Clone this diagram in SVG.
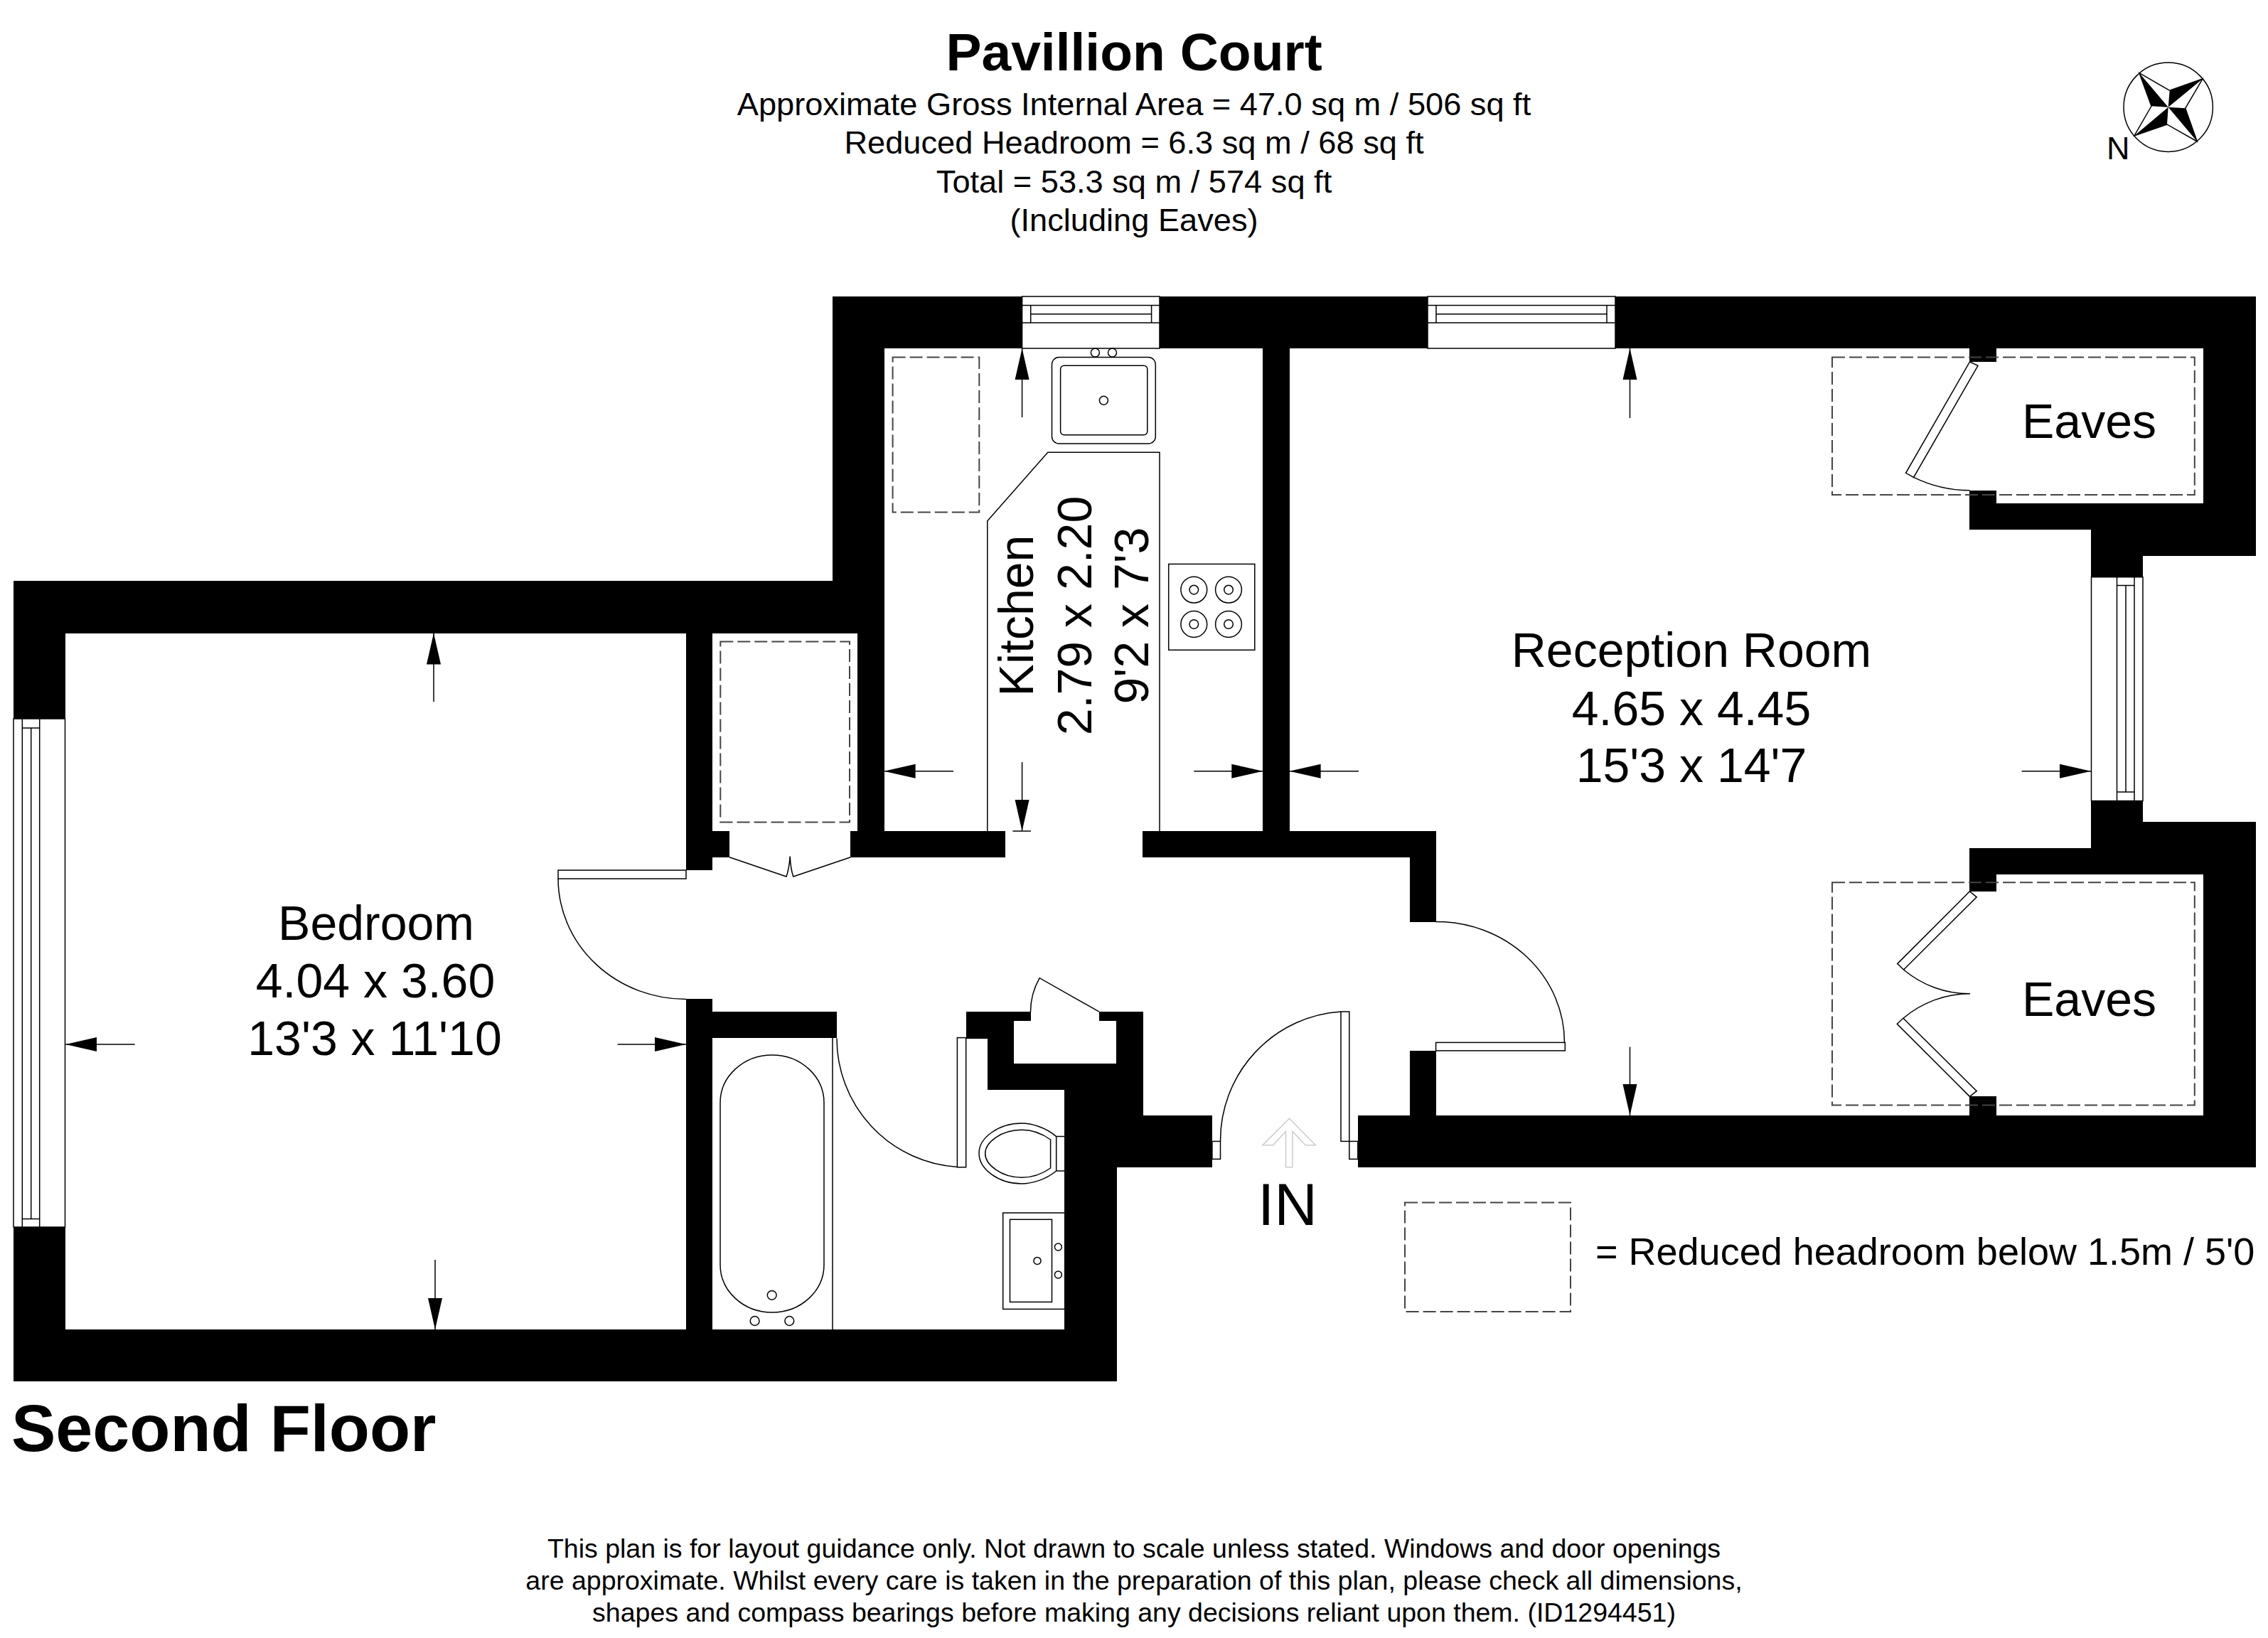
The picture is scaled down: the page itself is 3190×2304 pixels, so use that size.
<svg xmlns="http://www.w3.org/2000/svg" width="3190" height="2304" viewBox="0 0 3190 2304">
<style>
text{font-family:"Liberation Sans",Arial,sans-serif;fill:#000}
.c{text-anchor:middle}
.room{font-size:68px}
.sub{font-size:45.2px}
.foot{font-size:37.5px}
.wall{fill:#000;stroke:none}
.ln{fill:none;stroke:#000;stroke-width:1.5}
.wl{fill:#fff;stroke:#000;stroke-width:1.5}
.dash{fill:none;stroke:#444;stroke-width:2;stroke-dasharray:18 6}
.dim{stroke:#000;stroke-width:1.5;fill:none;marker-end:url(#ah)}
</style>
<defs>
<marker id="ah" markerUnits="userSpaceOnUse" markerWidth="46" markerHeight="22" refX="44" refY="11" orient="auto"><path d="M0 1L44 11L0 21Z" fill="#000"/></marker>
</defs>
<rect width="3190" height="2304" fill="#fff"/>

<g id="title">
<text class="c" x="1595" y="99" font-size="75" font-weight="700">Pavillion Court</text>
<text class="c sub" x="1595" y="162">Approximate Gross Internal Area = 47.0 sq m / 506 sq ft</text>
<text class="c sub" x="1595" y="216">Reduced Headroom = 6.3 sq m / 68 sq ft</text>
<text class="c sub" x="1595" y="271">Total = 53.3 sq m / 574 sq ft</text>
<text class="c sub" x="1595" y="325">(Including Eaves)</text>
</g>

<g id="compass">
<circle class="ln" cx="3049.7" cy="150.7" r="62.7" stroke-width="2"/>
<path fill="#000" d="M3009 102.7L3026 149.3L3049.7 150.7ZM3098 111L3051.7 127.3L3049.7 150.7ZM3090.3 199L3073.7 152.3L3049.7 150.7ZM3002 191L3048 175L3049.7 150.7Z"/>
<path class="ln" d="M3009 102.7L3051.7 127.3L3098 111L3073.7 152.3L3090.3 199L3048 175L3002 191L3026 149.3Z"/>
<text x="2963" y="224" font-size="45">N</text>
</g>

<g id="walls" class="wall">
<rect x="1171" y="417" width="267" height="73"/>
<rect x="1631" y="417" width="377" height="73"/>
<rect x="2272" y="417" width="901" height="73"/>
<rect x="1171" y="417" width="73" height="474"/>
<rect x="19" y="817" width="1225" height="74"/>
<rect x="1206" y="817" width="38" height="388"/>
<rect x="1776" y="490" width="38" height="716"/>
<rect x="19" y="817" width="73" height="194"/>
<rect x="19" y="1726" width="73" height="217"/>
<rect x="19" y="1870" width="1552" height="73"/>
<rect x="965" y="891" width="37" height="333"/>
<rect x="965" y="1169" width="61" height="37"/>
<rect x="1196" y="1169" width="218" height="37"/>
<rect x="1607" y="1169" width="413" height="37"/>
<rect x="1983" y="1169" width="37" height="128"/>
<rect x="1983" y="1478" width="37" height="100"/>
<rect x="965" y="1405" width="37" height="500"/>
<rect x="965" y="1423" width="212" height="37"/>
<rect x="1359" y="1423" width="91" height="13"/>
<rect x="1546" y="1423" width="62" height="13"/>
<rect x="1359" y="1423" width="67" height="37"/>
<rect x="1389" y="1423" width="37" height="110"/>
<rect x="1570" y="1423" width="38" height="146"/>
<rect x="1389" y="1496" width="219" height="37"/>
<rect x="1497" y="1496" width="111" height="146"/>
<rect x="1497" y="1569" width="208" height="73"/>
<rect x="1497" y="1569" width="74" height="374"/>
<rect x="1910" y="1569" width="1263" height="73"/>
<rect x="3099" y="417" width="74" height="328"/>
<rect x="2770" y="708" width="403" height="37"/>
<rect x="2941" y="745" width="232" height="37"/>
<rect x="2941" y="745" width="73" height="67"/>
<rect x="2770" y="490" width="38" height="19"/>
<rect x="2770" y="690" width="38" height="55"/>
<rect x="2941" y="1126" width="73" height="103"/>
<rect x="3014" y="1156" width="159" height="74"/>
<rect x="2770" y="1193" width="403" height="37"/>
<rect x="2770" y="1193" width="38" height="61"/>
<rect x="3099" y="1193" width="74" height="449"/>
<rect x="2770" y="1542" width="38" height="40"/>
</g>

<g id="windows">
<g id="window-kitchen">
<rect class="wl" x="1437.6" y="417" width="193.4" height="73"/>
<path class="ln" d="M1437.6 429.6H1631M1449.7 441.8H1619.6M1437.6 454H1631M1449.7 429.6V454M1619.6 429.6V454"/>
</g>
<g id="window-reception-top">
<rect class="wl" x="2008" y="417" width="264" height="73"/>
<path class="ln" d="M2008 429.6H2272M2020 441.8H2260M2008 454H2272M2020 429.6V454M2260 429.6V454"/>
</g>
<g id="window-reception-side">
<rect class="wl" x="2941.5" y="811.7" width="72.5" height="314.8"/>
<path class="ln" d="M2977.5 811.7V1126.5M2990 823.5V1114M3002 811.7V1126.5M2977.5 823.5H3002M2977.5 1114H3002"/>
</g>
<g id="window-bedroom">
<rect class="wl" x="19" y="1011" width="72.5" height="715"/>
<path class="ln" d="M31.3 1011V1726M43.7 1023.9V1714.5M55.7 1011V1726M31.3 1023.9H55.7M31.3 1714.5H55.7"/>
</g>
</g>

<g id="doors">
<g id="door-bedroom">
<rect class="wl" x="785" y="1224" width="180" height="12"/>
<path class="ln" d="M785 1236A180 170 0 0 0 965 1405.5"/>
</g>
<g id="door-closet">
<path class="ln" d="M1026 1205.7L1106 1233Q1110 1222 1111.2 1204.6Q1112 1222 1115.8 1233L1196.4 1205.7"/>
</g>
<g id="door-bathroom">
<rect class="wl" x="1346.4" y="1459.6" width="12.3" height="182.2"/>
<path class="ln" d="M1177 1460.4A181 181 0 0 0 1346.4 1641.4"/>
<path class="ln" d="M1358.7 1460.4H1389"/>
</g>
<g id="door-cupboard">
<path class="ln" d="M1546 1423.2L1462.2 1375.7A96 96 0 0 0 1449.5 1423.2"/>
</g>
<g id="door-entrance">
<rect class="wl" x="1704.9" y="1605.4" width="11.6" height="25"/>
<rect class="wl" x="1897.8" y="1605.4" width="12" height="25"/>
<rect class="wl" x="1886" y="1423" width="11.8" height="182.4"/>
<path class="ln" d="M1716.5 1605.4A181 182 0 0 1 1886 1423"/>
</g>
<g id="door-reception">
<rect class="wl" x="2019.6" y="1466.4" width="181.7" height="11.5"/>
<path class="ln" d="M2020 1296.4A180 170 0 0 1 2200.5 1466.4"/>
</g>
<g id="door-eaves-top">
<path class="wl" d="M2770.5 509L2782 514.3L2691.6 671.4L2680.6 665.3Z"/>
<path class="ln" d="M2691.6 671.4A180 180 0 0 0 2770.5 689.8"/>
</g>
<g id="door-eaves-bottom">
<path class="wl" d="M2770.5 1253.8L2780.2 1261.8L2677.5 1364L2668.7 1355.6Z"/>
<path class="wl" d="M2770.5 1542.4L2780.2 1534.7L2677 1432.3L2668.3 1440.2Z"/>
<path class="ln" d="M2677.5 1364A144 144 0 0 0 2771 1397.8A144 144 0 0 0 2677 1432.3"/>
</g>
</g>

<g id="headroom">
<rect class="dash" x="1255.6" y="502.6" width="121.7" height="217.8"/>
<rect class="dash" x="1013.3" y="902.6" width="181.7" height="253.8"/>
<rect class="dash" x="2577" y="502.6" width="509.8" height="193.4"/>
<rect class="dash" x="2577" y="1241.2" width="509.8" height="313.4"/>
<rect class="dash" x="1976" y="1691.4" width="233" height="153.6"/>
</g>

<g id="kitchen-fittings">
<path class="ln" d="M1388.8 1169V732.7L1473.8 636.2H1631V1169"/>
<rect class="ln" x="1479.5" y="502.6" width="145.8" height="121.4" rx="10"/>
<rect class="ln" x="1491.6" y="514.3" width="122.2" height="97.4" rx="5"/>
<circle class="ln" cx="1552.4" cy="563.3" r="6"/>
<circle class="ln" cx="1540.4" cy="496" r="6"/>
<circle class="ln" cx="1564.5" cy="496" r="6"/>
<rect class="ln" x="1643.7" y="793.4" width="121.1" height="120.9"/>
<circle class="ln" cx="1679.3" cy="829.6" r="18.4"/><circle class="ln" cx="1679.3" cy="829.6" r="6.3"/>
<circle class="ln" cx="1728" cy="829.6" r="18.4"/><circle class="ln" cx="1728" cy="829.6" r="6.3"/>
<circle class="ln" cx="1679.3" cy="878" r="18.4"/><circle class="ln" cx="1679.3" cy="878" r="6.3"/>
<circle class="ln" cx="1728" cy="878" r="18.4"/><circle class="ln" cx="1728" cy="878" r="6.3"/>
</g>

<g id="bathroom-fittings">
<path class="ln" d="M1171 1460V1870"/>
<rect class="ln" x="1013" y="1484" width="146" height="362" rx="73" ry="67"/>
<circle class="ln" cx="1085.7" cy="1821.8" r="6.4"/>
<circle class="ln" cx="1061.6" cy="1858" r="6.4"/>
<circle class="ln" cx="1110.3" cy="1858" r="6.4"/>
<path class="ln" d="M1485.7 1598.6H1497.4M1485.7 1647H1497.4M1485.7 1598.6V1647"/>
<path class="ln" d="M1485.7 1598.6C1470 1585 1450 1580 1437 1580C1405 1580 1377 1600 1377 1622C1377 1645 1405 1665 1437 1665C1450 1665 1470 1660 1485.7 1647"/>
<path class="ln" d="M1477.6 1603C1465 1594 1450 1589.3 1437 1589.3C1408 1589.3 1385.7 1607 1385.7 1622.5C1385.7 1638 1408 1656.3 1437 1656.3C1450 1656.3 1465 1652 1477.6 1643Z"/>
<rect class="ln" x="1410.7" y="1706" width="87" height="135.4"/>
<rect class="ln" x="1420.5" y="1715.3" width="59" height="116.1"/>
<circle class="ln" cx="1459" cy="1773.4" r="5"/>
<circle class="ln" cx="1488.4" cy="1754" r="5"/>
<circle class="ln" cx="1488.4" cy="1793" r="5"/>
</g>

<g id="connectors">
<path class="dim" d="M1437.6 587V490"/>
<path class="dim" d="M1437.6 1072V1169"/>
<path class="ln" d="M1424.4 1169H1450"/>
<path class="dim" d="M1341 1084.7H1243.6"/>
<path class="dim" d="M1679.3 1084.7H1776.3"/>
<path class="dim" d="M1911 1084.7H1813.6"/>
<path class="dim" d="M2843.6 1084.7H2941"/>
<path class="dim" d="M2292.5 588V490"/>
<path class="dim" d="M2292.5 1472.5V1569"/>
<path class="dim" d="M610 987V890.6"/>
<path class="dim" d="M612 1772V1870"/>
<path class="dim" d="M189.7 1469H92.3"/>
<path class="dim" d="M868.6 1469H964.8"/>
<path fill="none" stroke="#ccc" stroke-width="1.5" d="M1813.4 1573.2L1850.4 1610.7H1836.2L1817.9 1591.4V1641.8H1808.5V1591.4L1790.6 1610.7H1775.9Z"/>
</g>

<g id="labels">
<text class="c room" x="2379" y="938">Reception Room</text>
<text class="c room" x="2379" y="1020">4.65 x 4.45</text>
<text class="c room" x="2379" y="1100">15'3 x 14'7</text>
<text class="c room" x="529" y="1322">Bedroom</text>
<text class="c room" x="528" y="1403">4.04 x 3.60</text>
<text class="c room" x="527" y="1484">13'3 x 11'10</text>
<text class="c room" transform="translate(1453 866) rotate(-90)">Kitchen</text>
<text class="c room" transform="translate(1534.6 866) rotate(-90)">2.79 x 2.20</text>
<text class="c room" transform="translate(1615 866) rotate(-90)">9'2 x 7'3</text>
<text class="room" x="2844" y="616">Eaves</text>
<text class="room" x="2844" y="1429">Eaves</text>
<text x="1811" y="1723" class="c" font-size="84">IN</text>
<text x="2244" y="1779" font-size="54">= Reduced headroom below 1.5m / 5'0</text>
<text x="16" y="2041" font-size="93.5" font-weight="700">Second Floor</text>
</g>

<g id="footer">
<text class="c foot" x="1595" y="2191">This plan is for layout guidance only. Not drawn to scale unless stated. Windows and door openings</text>
<text class="c foot" x="1595" y="2236">are approximate. Whilst every care is taken in the preparation of this plan, please check all dimensions,</text>
<text class="c foot" x="1595" y="2281">shapes and compass bearings before making any decisions reliant upon them. (ID1294451)</text>
</g>
</svg>
